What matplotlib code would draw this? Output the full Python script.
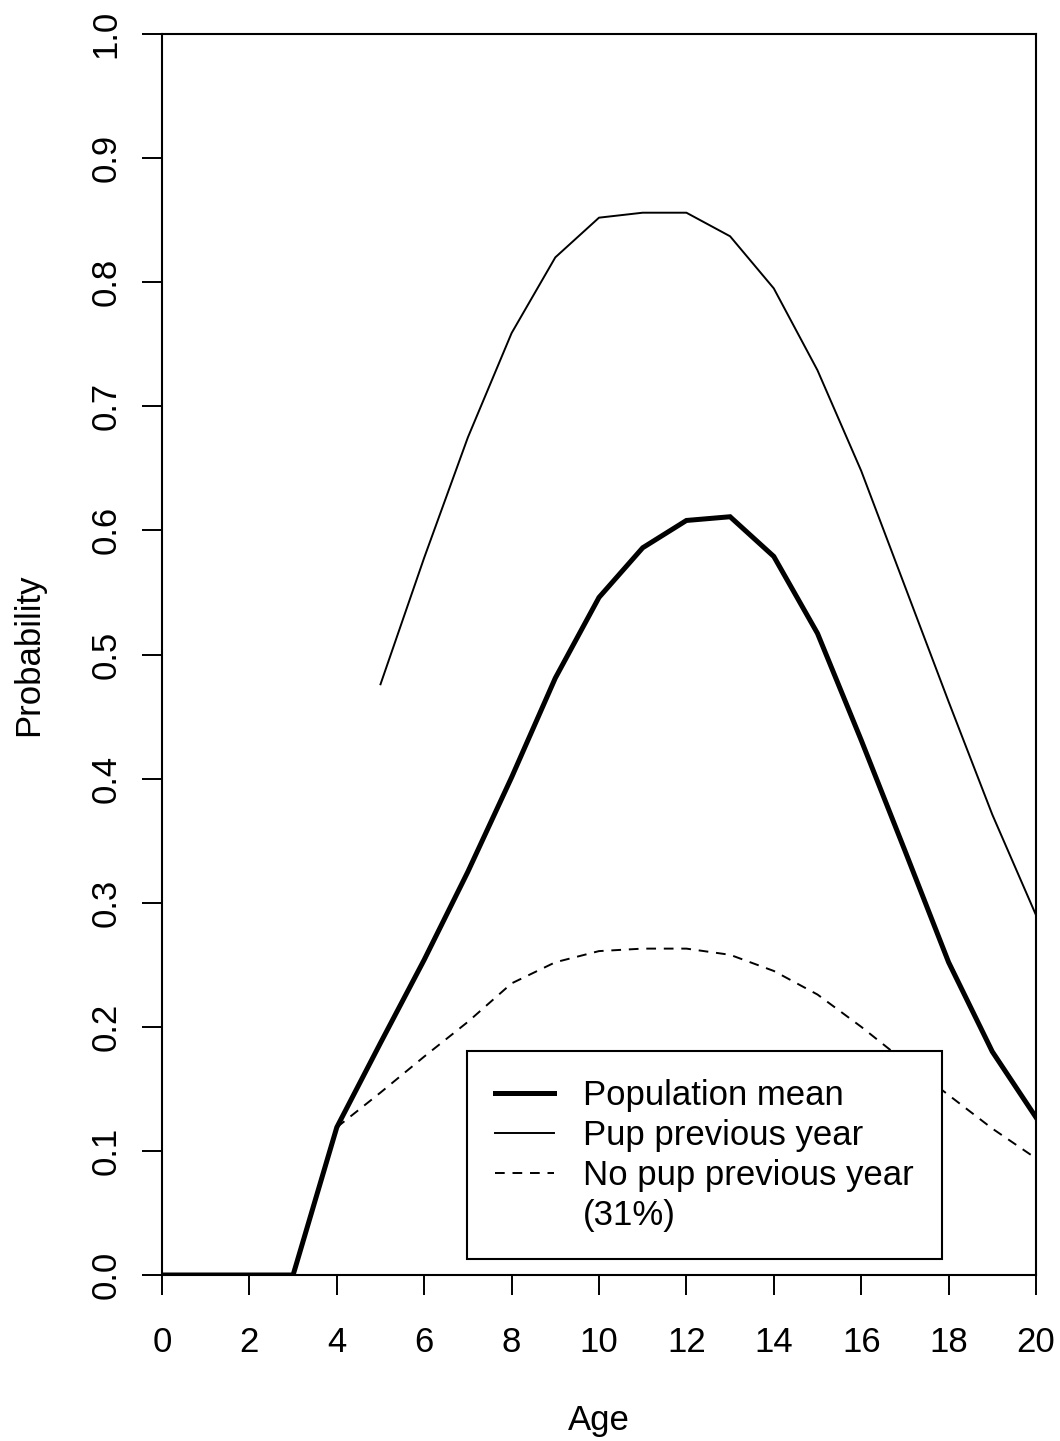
import numpy as np
import matplotlib
matplotlib.use("Agg")
import matplotlib.pyplot as plt
from matplotlib.lines import Line2D

# datos
edades = np.arange(21)
media_poblacion = [0, 0, 0, 0, 0.119, 0.187, 0.254, 0.325, 0.401, 0.481, 0.546,
                   0.586, 0.608, 0.611, 0.579, 0.517, 0.431, 0.342, 0.252, 0.180, 0.127]
con_cria = [np.nan] * 5 + [0.476, 0.578, 0.675, 0.759, 0.820, 0.852, 0.856, 0.856,
                           0.837, 0.795, 0.729, 0.648, 0.555, 0.462, 0.371, 0.290]
sin_cria = [np.nan] * 4 + [0.119, 0.147, 0.176, 0.204, 0.235, 0.252, 0.261, 0.263,
                           0.263, 0.258, 0.245, 0.226, 0.200, 0.172, 0.145, 0.118, 0.094]

etiquetas = ["Population mean", "Pup previous year", "No pup previous year", "(31%)"]

plt.rcParams['font.family'] = ['Liberation Sans', 'DejaVu Sans']
fs = 25

fig = plt.figure(figsize=(10.6, 14.41), dpi=100)
ax = fig.add_axes([162 / 1060, 1 - 1275 / 1441, (1036 - 162) / 1060, (1275 - 34) / 1441])

ax.plot(edades, media_poblacion, color='black', lw=3.6, solid_joinstyle='miter')
ax.plot(edades, con_cria, color='black', lw=1.4)
ax.plot(edades, sin_cria, color='black', lw=1.4, dashes=(5, 4))

ax.set_xlim(0, 20)
ax.set_ylim(0, 1)
ax.set_xticks(np.arange(0, 21, 2))
ax.set_yticks(np.arange(0, 1.01, 0.1))
ax.set_yticklabels([f"{v:.1f}" for v in np.arange(0, 1.01, 0.1)], rotation=90, va='center')

for s in ax.spines.values():
    s.set_linewidth(1.5)
ax.tick_params(direction='out', length=14.4, width=1.4, labelsize=fs)
ax.tick_params(axis='x', pad=22)
ax.tick_params(axis='y', pad=14)

ax.set_xlabel("Age", fontsize=fs, labelpad=33)
ax.set_ylabel("Probability", fontsize=fs, labelpad=32)

handles = [Line2D([], [], color='black', lw=3.6),
           Line2D([], [], color='black', lw=1.4),
           Line2D([], [], color='black', lw=1.4, dashes=(5, 4)),
           Line2D([], [], color='none', lw=0)]
leg = ax.legend(handles, etiquetas, fontsize=fs, loc='upper left',
                bbox_to_anchor=(467 / 1060, 1 - 1051 / 1441), bbox_transform=fig.transFigure,
                frameon=True, fancybox=False, edgecolor='black', framealpha=1,
                borderaxespad=0, borderpad=0.8, labelspacing=0.2,
                handlelength=1.7, handletextpad=0.85)
leg.get_frame().set_linewidth(1.5)

fig.savefig("out.png", dpi=100)
